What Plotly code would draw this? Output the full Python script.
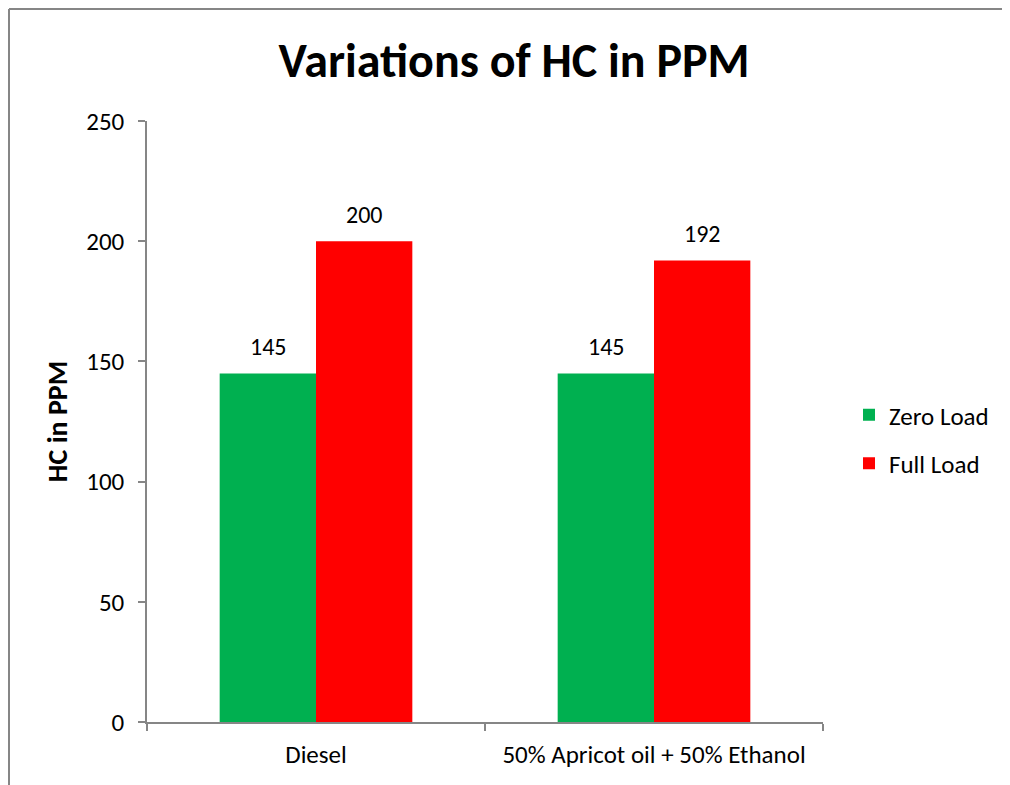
import plotly.graph_objects as go

categories = ["Diesel", "50% Apricot oil + 50% Ethanol"]
zero_load = [145, 145]
full_load = [200, 192]
y_ticks = [0, 50, 100, 150, 200, 250]

FONT = "Carlito, Lato, Calibri, sans-serif"
OFF = 8  # page body margin
W, H = 1010 - OFF, 785 - OFF
PX0, PX1, PY0, PY1 = 147 - OFF, 823 - OFF, 121 - OFF, 722 - OFF
L, R, T, B = PX0, W - PX1, PY0, H - PY1
pw, ph = PX1 - PX0, PY1 - PY0


def px_x(x):
    return (x - OFF - PX0) / pw


def px_y(y):
    return 1 - (y - OFF - PY0) / ph


fig = go.Figure()
fig.add_trace(go.Bar(name="Zero Load", x=categories, y=zero_load, marker_color="#00B050",
                     marker_line_width=0, legendgroup="a"))
fig.add_trace(go.Bar(name="Full Load", x=categories, y=full_load, marker_color="#FF0000",
                     marker_line_width=0, legendgroup="b"))

# data labels above the bars
for vals, shift in ((zero_load, -48), (full_load, 48)):
    for c, v in zip(categories, vals):
        fig.add_annotation(x=c, y=v, xref="x", yref="y", text=str(v), showarrow=False,
                           xshift=shift, yshift=10, yanchor="bottom",
                           font=dict(size=24, family=FONT, color="black"))

fig.update_layout(
    width=W, height=H,
    margin=dict(l=L, r=R, t=T, b=B, pad=0),
    paper_bgcolor="white", plot_bgcolor="white",
    font=dict(family=FONT, size=24, color="black"),
    title=dict(text="<b>Variations of HC in PPM</b>", x=(514 - OFF) / W, xref="container",
               xanchor="center", y=1 - (60 - OFF) / H, yanchor="middle",
               font=dict(size=48, family=FONT, color="black")),
    barmode="group", bargap=0.43, bargroupgap=0,
    showlegend=True,
    legend=dict(x=px_x(849), y=px_y(392), xanchor="left", yanchor="top",
                font=dict(size=25, family=FONT), tracegroupgap=13,
                itemsizing="constant", bgcolor="rgba(0,0,0,0)"),
    xaxis=dict(showline=True, linecolor="#868686", linewidth=1.5, ticks="outside",
               tickson="boundaries", ticklen=7, tickcolor="#868686", tickwidth=1.5,
               showgrid=False, tickfont=dict(size=25, family=FONT), ticklabelstandoff=9),
    yaxis=dict(range=[0, 250], tickvals=y_ticks, showline=True, linecolor="#868686",
               linewidth=1.5, ticks="outside", ticklen=7, tickcolor="#868686", tickwidth=1.5,
               showgrid=False, zeroline=False, tickfont=dict(size=25, family=FONT),
               ticklabelstandoff=9,
               title=dict(text="<b>HC in PPM</b>", font=dict(size=28, family=FONT), standoff=10)),
)

# outer chart border (top and left visible)
fig.add_shape(type="line", xref="paper", yref="paper", x0=px_x(9), x1=px_x(9),
              y0=px_y(9), y1=px_y(800), line=dict(color="#868686", width=2))
fig.add_shape(type="line", xref="paper", yref="paper", x0=px_x(9), x1=px_x(1020),
              y0=px_y(9), y1=px_y(9), line=dict(color="#868686", width=2))

fig.write_html("out.html")
